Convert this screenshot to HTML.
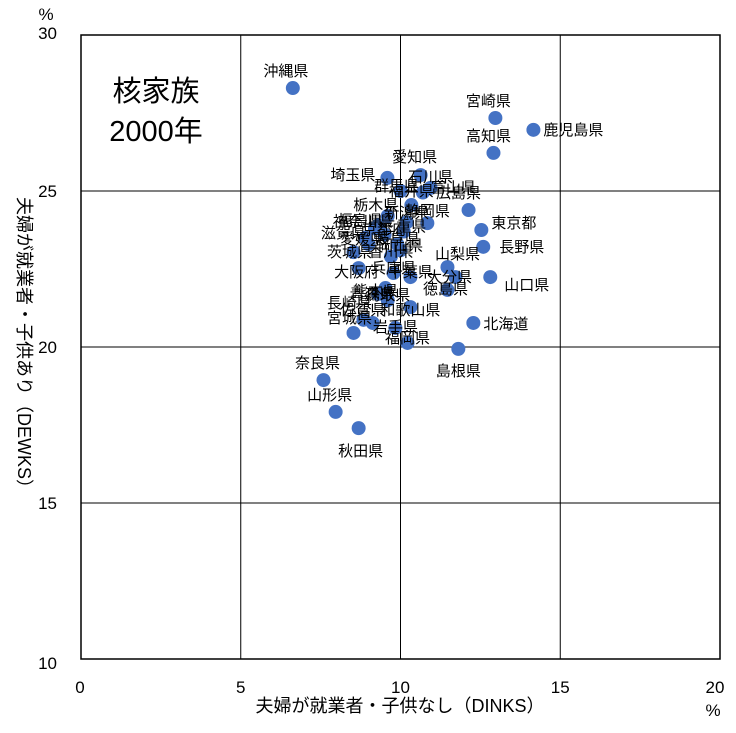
<!DOCTYPE html>
<html><head><meta charset="utf-8">
<style>
html,body{margin:0;padding:0;background:#fff;}
body{width:736px;height:728px;overflow:hidden;font-family:"Liberation Sans","Noto Sans CJK JP",sans-serif;}
svg text{font-family:"Liberation Sans","Noto Sans CJK JP",sans-serif;}
</style></head>
<body>
<svg id="chart" width="736" height="728" xmlns="http://www.w3.org/2000/svg">
<g id="grid"></g>
<rect x="81" y="35" width="639" height="624" fill="none" stroke="#000" stroke-width="1.5"/>
<g id="xticks"></g>
<g id="yticks"></g>
<text x="46" y="20" font-size="17" text-anchor="middle">%</text>
<text x="713" y="716" font-size="17" text-anchor="middle">%</text>
<text x="400" y="712" font-size="18" text-anchor="middle">夫婦が就業者・子供なし（DINKS）</text>
<text transform="translate(18,347) rotate(90)" font-size="18" text-anchor="middle">夫婦が就業者・子供あり（DEWKS）</text>
<text x="156" y="101" font-size="29" text-anchor="middle">核家族</text>
<text x="156" y="141" font-size="29" text-anchor="middle">2000年</text>
<g id="points"></g>
<g id="labels"></g>
</svg>
<script>
const names = ["沖縄県","宮崎県","鹿児島県","高知県","愛知県","埼玉県","石川県","富山県","群馬県","広島県","福井県","静岡県","東京都","長野県","茨城県","大阪府","大分県","山口県","徳島県","和歌山県","宮城県","岩手県","北海道","島根県","奈良県","山形県","秋田県","栃木県","福島県","滋賀県","岐阜県","三重県","京都府","兵庫県","千葉県","神奈川県","新潟県","山梨県","岡山県","香川県","愛媛県","佐賀県","長崎県","熊本県","福岡県","青森県","鳥取県"];
const xs = [6.63,12.97,14.16,12.91,10.63,9.59,10.94,10.7,10.0,12.13,10.34,10.84,12.53,12.59,8.53,8.69,11.72,12.81,11.47,10.31,8.53,9.84,12.28,11.81,7.59,7.97,8.69,9.6,9.3,8.9,9.9,10.1,9.5,9.78,10.31,9.2,10.2,11.47,10.0,9.7,9.0,9.13,8.84,9.53,10.22,9.3,9.6];
const ys = [28.30,27.34,26.96,26.22,25.51,25.42,25.10,24.95,25.00,24.39,24.55,23.97,23.75,23.21,23.04,22.53,22.24,22.24,21.83,21.28,20.45,20.61,20.77,19.94,18.94,17.92,17.40,24.2,23.9,23.5,23.3,23.7,23.6,22.37,22.24,23.8,24.0,22.56,23.1,22.9,23.3,20.77,20.87,21.89,20.13,21.7,21.5];
const labelOffsets = [[-7,-12,"middle"],[-7,-12,"middle"],[10,5,"start"],[-5,-12,"middle"],[-6,-13,"middle"],[-12,2,"end"],[0,-6,"middle"],[8,0,"start"],[-4,0,"middle"],[-10,-12,"middle"],[0,-9,"middle"],[0,-7,"middle"],[10,-2,"start"],[16,5,"start"],[-4,5,"middle"],[-2,9,"middle"],[-6,5,"middle"],[14,13,"start"],[-2,4,"middle"],[0,8,"middle"],[-4,-10,"middle"],[0,4,"middle"],[10,6,"start"],[0,27,"middle"],[-6,-12,"middle"],[-6,-12,"middle"],[2,28,"middle"],[-12,-6,"middle"],[-18,0,"middle"],[-22,0,"middle"],[0,0,"middle"],[0,0,"middle"],[0,0,"middle"],[0,0,"middle"],[0,0,"middle"],[-12,-2,"middle"],[0,-4,"middle"],[10,-8,"middle"],[0,0,"middle"],[0,0,"middle"],[-6,0,"middle"],[-10,-8,"middle"],[-14,-12,"middle"],[-10,8,"middle"],[0,0,"middle"],[-6,5,"middle"],[0,0,"middle"]];
const xTicks = [0,5,10,15,20];
const yTicks = [10,15,20,25,30];
const X0=81,X1=720,Y0=659,Y1=35;
const sx = v => X0 + (v-0)/(20-0)*(X1-X0);
const sy = v => Y0 - (v-10)/(30-10)*(Y0-Y1);
const NS="http://www.w3.org/2000/svg";
const grid=document.getElementById('grid');
xTicks.slice(1,-1).forEach(t=>{const l=document.createElementNS(NS,'line');


l.setAttribute('x1',sx(t));l.setAttribute('x2',sx(t));l.setAttribute('y1',Y1);l.setAttribute('y2',Y0);l.setAttribute('stroke','#000');l.setAttribute('stroke-width','1');grid.appendChild(l);});
yTicks.slice(1,-1).forEach(t=>{const l=document.createElementNS(NS,'line');


l.setAttribute('x1',X0);l.setAttribute('x2',X1);l.setAttribute('y1',sy(t));l.setAttribute('y2',sy(t));l.setAttribute('stroke','#000');l.setAttribute('stroke-width','1');grid.appendChild(l);});
const xt=document.getElementById('xticks');
xTicks.forEach(t=>{const e=document.createElementNS(NS,'text');


e.setAttribute('x',sx(t)-(t===20?5:0)+(t===0?-1:0));e.setAttribute('y',693);e.setAttribute('font-size','17');e.setAttribute('text-anchor','middle');e.textContent=t;xt.appendChild(e);});
const yt=document.getElementById('yticks');
yTicks.forEach(t=>{const e=document.createElementNS(NS,'text');


e.setAttribute('x',57);e.setAttribute('y',sy(t)+(t===10?10:(t===30?4:6)));e.setAttribute('font-size','17');e.setAttribute('text-anchor','end');e.textContent=t;yt.appendChild(e);});
const pts=document.getElementById('points'),lbs=document.getElementById('labels');
names.forEach((n,i)=>{const c=document.createElementNS(NS,'circle');


c.setAttribute('cx',sx(xs[i]));c.setAttribute('cy',sy(ys[i]));c.setAttribute('r','7');c.setAttribute('fill','#4472C4');pts.appendChild(c);
const o=labelOffsets[i]||[0,0,"middle"];
const t=document.createElementNS(NS,'text');


t.setAttribute('x',sx(xs[i])+o[0]);t.setAttribute('y',sy(ys[i])+o[1]);t.setAttribute('font-size','15');t.setAttribute('text-anchor',o[2]);t.textContent=n;lbs.appendChild(t);});
</script>
</body></html>
